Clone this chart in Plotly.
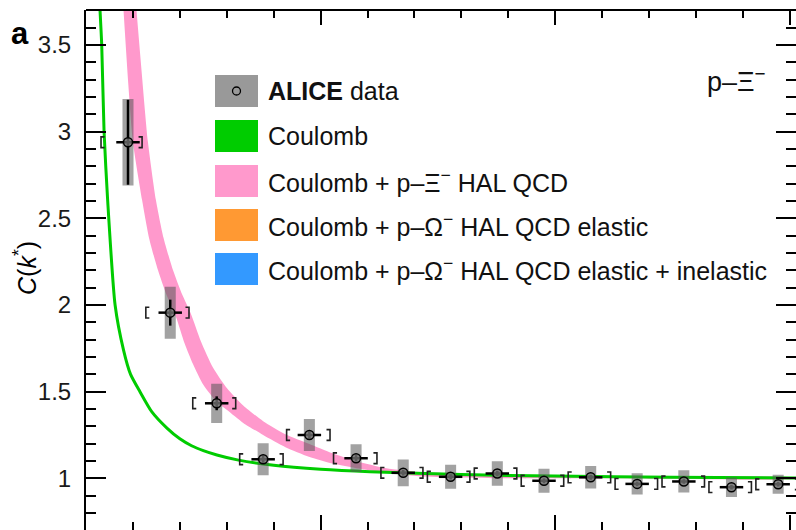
import plotly.graph_objects as go

# ALICE p-Xi- correlation function data
k_star = [17.9, 35.9, 55.7, 75.5, 95.2, 115.1, 135.2, 155.4, 175.3, 195.2, 215.1, 234.9, 254.8, 275.1, 295.0]
c_val = [2.939, 1.956, 1.433, 1.110, 1.250, 1.116, 1.032, 1.009, 1.028, 0.986, 1.006, 0.968, 0.982, 0.949, 0.966]
c_stat = [0.245, 0.075, 0.040, 0.020, 0.020, 0.018, 0.016, 0.015, 0.015, 0.014, 0.014, 0.013, 0.013, 0.013, 0.013]
c_syst = [0.250, 0.150, 0.113, 0.092, 0.092, 0.080, 0.077, 0.069, 0.070, 0.069, 0.065, 0.061, 0.064, 0.056, 0.055]
k_res = [5.0] * 15
bin_lo = [6.4, 25.5, 45.5, 65.5, 85.5, 105.5, 125.7, 145.5, 165.5, 185.5, 205.5, 225.5, 245.5, 265.5, 285.5]
bin_hi = [23.9, 43.9, 63.8, 84.0, 104.0, 124.0, 143.6, 163.6, 183.6, 203.6, 223.6, 243.6, 263.6, 283.6, 303.6]

# Coulomb-only prediction
coul_k = [5.9, 6.7, 7.7, 9.2, 12.4, 16.0, 19.0, 23.0, 28.0, 34.5, 40.0, 45.0, 50.0, 55.8, 65.0, 80.0,
          100.0, 121.0, 160.0, 200.0, 250.0, 302.6]
coul_c = [3.72, 3.50, 3.00, 2.61, 2.00, 1.74, 1.60, 1.50, 1.385, 1.29, 1.228, 1.188, 1.160, 1.135, 1.105,
          1.075, 1.052, 1.038, 1.022, 1.013, 1.006, 1.002]

# Coulomb + HAL QCD band edges
band_lo_k = [15.9, 18.0, 20.0, 23.9, 27.0, 30.7, 34.0, 38.4, 42.0, 45.6, 50.0, 55.8, 60.1, 67.0, 75.5,
             85.0, 95.0, 105.0, 121.0, 142.0, 180.0, 240.0, 302.6]
band_lo_c = [3.72, 3.28, 2.94, 2.606, 2.38, 2.20, 2.07, 1.93, 1.78, 1.66, 1.54, 1.44, 1.394, 1.32, 1.25,
             1.18, 1.125, 1.085, 1.045, 1.012, 1.000, 0.998, 0.998]
band_hi_k = [21.4, 24.0, 26.4, 29.8, 33.0, 37.1, 41.0, 44.7, 49.0, 54.1, 60.1, 67.0, 75.5, 85.0, 95.0,
             105.0, 115.0, 128.0, 142.0, 180.0, 240.0, 302.6]
band_hi_c = [3.72, 3.30, 2.94, 2.606, 2.39, 2.20, 2.06, 1.95, 1.79, 1.64, 1.52, 1.42, 1.33, 1.255, 1.20,
             1.145, 1.10, 1.058, 1.036, 1.018, 1.008, 1.004]

GREEN = "#00cc00"
PINK = "#ff99cc"
ORANGE = "#ff9933"
BLUE = "#3399ff"
FONT = "Liberation Sans, Arial, sans-serif"

fig = go.Figure()

# theory band and Coulomb curve
fig.add_trace(go.Scatter(
    x=band_lo_k + band_hi_k[::-1], y=band_lo_c + band_hi_c[::-1],
    mode="lines", fill="toself", fillcolor=PINK,
    line=dict(width=0, shape="spline", smoothing=0.6), hoverinfo="skip"))
fig.add_trace(go.Scatter(
    x=coul_k, y=coul_c, mode="lines",
    line=dict(color=GREEN, width=3, shape="spline", smoothing=0.6), hoverinfo="skip"))

# systematic boxes
half_w = 2.35
bx, by = [], []
for k, c, s in zip(k_star, c_val, c_syst):
    bx += [k - half_w, k + half_w, k + half_w, k - half_w, k - half_w, None]
    by += [c - s, c - s, c + s, c + s, c - s, None]
fig.add_trace(go.Scatter(
    x=bx, y=by, mode="lines", fill="toself", fillcolor="rgba(85,85,85,0.55)",
    line=dict(width=0), hoverinfo="skip"))

# bin-edge brackets
arm, hgt = 1.5, 0.031
rx, ry = [], []
for lo, hi, c in zip(bin_lo, bin_hi, c_val):
    rx += [lo + arm, lo, lo, lo + arm, None, hi - arm, hi, hi, hi - arm, None]
    ry += [c + hgt, c + hgt, c - hgt, c - hgt, None, c + hgt, c + hgt, c - hgt, c - hgt, None]
fig.add_trace(go.Scatter(
    x=rx, y=ry, mode="lines", line=dict(color="#222222", width=1.6), hoverinfo="skip"))

# data points with statistical errors
fig.add_trace(go.Scatter(
    x=k_star, y=c_val, mode="markers",
    marker=dict(symbol="circle", size=9, color="rgba(120,120,120,0.75)",
                line=dict(color="black", width=1.5)),
    error_y=dict(type="data", array=c_stat, color="black", thickness=2.5, width=0),
    error_x=dict(type="data", array=k_res, color="black", thickness=2.5, width=0),
    hoverinfo="skip"))

shapes = [
    # top frame line
    dict(type="line", xref="paper", yref="paper", x0=0, x1=1, y0=1, y1=1,
         line=dict(color="black", width=2)),
]


def px_x(p):
    return (p - 86) / 710.0


def px_y(p):
    return (530 - p) / 520.0


# legend
rows = [91, 136, 181, 225, 269]
labels = ["<b>ALICE</b> data", "Coulomb", "Coulomb + p–Ξ<sup>−</sup> HAL QCD",
          "Coulomb + p–Ω<sup>−</sup> HAL QCD elastic",
          "Coulomb + p–Ω<sup>−</sup> HAL QCD elastic + inelastic"]
swatch = ["#999999", GREEN, PINK, ORANGE, BLUE]
annotations = []
for r, lab, col in zip(rows, labels, swatch):
    shapes.append(dict(type="rect", xref="paper", yref="paper",
                       x0=px_x(215), x1=px_x(258), y0=px_y(r + 16), y1=px_y(r - 16),
                       fillcolor=col, line=dict(width=0)))
    annotations.append(dict(xref="paper", yref="paper", x=px_x(266), y=px_y(r),
                            xanchor="left", yanchor="middle", showarrow=False, text=lab,
                            font=dict(family=FONT, size=25, color="#111111")))
shapes.append(dict(type="circle", xref="paper", yref="paper",
                   x0=px_x(232.5), x1=px_x(240.5), y0=px_y(rows[0] + 4), y1=px_y(rows[0] - 4),
                   fillcolor="#999999", line=dict(color="black", width=1.3)))

annotations += [
    dict(xref="paper", yref="paper", x=px_x(20), y=px_y(34), xanchor="center", yanchor="middle",
         showarrow=False, text="<b>a</b>", font=dict(family=FONT, size=31, color="black")),
    dict(xref="paper", yref="paper", x=px_x(25), y=px_y(268), xanchor="center", yanchor="middle",
         showarrow=False, textangle=-90, text="<i>C</i>(<i>k</i><sup>*</sup>)",
         font=dict(family=FONT, size=25, color="black")),
    dict(xref="paper", yref="paper", x=px_x(736), y=px_y(80), xanchor="center", yanchor="middle",
         showarrow=False, text="p–Ξ<sup>−</sup>", font=dict(family=FONT, size=27, color="#111111")),
]

fig.update_layout(
    width=796, height=530,
    margin=dict(l=86, r=0, t=10, b=0),
    plot_bgcolor="white", paper_bgcolor="white",
    showlegend=False,
    shapes=shapes, annotations=annotations,
    font=dict(family=FONT, color="#111111"),
    xaxis=dict(range=[0, 302.6], showgrid=False, zeroline=False, showline=False,
               ticks="inside", ticklen=15, tickwidth=2, tickcolor="black",
               tick0=0, dtick=100, mirror="ticks", showticklabels=False,
               automargin=False,
               minor=dict(ticks="inside", ticklen=8, tickwidth=2, tickcolor="black",
                          tick0=0, dtick=20, showgrid=False)),
    yaxis=dict(range=[0.702, 3.702], showgrid=False, zeroline=False, showline=True,
               linecolor="black", linewidth=2, mirror="allticks",
               ticks="inside", ticklen=20, tickwidth=2, tickcolor="black",
               tick0=0, dtick=0.5, ticklabelstandoff=8, automargin=False,
               tickfont=dict(family=FONT, size=24, color="#1a1a1a"),
               minor=dict(ticks="inside", ticklen=10, tickwidth=2, tickcolor="black",
                          tick0=0, dtick=0.1, showgrid=False)),
)

fig.write_html("out.html")
